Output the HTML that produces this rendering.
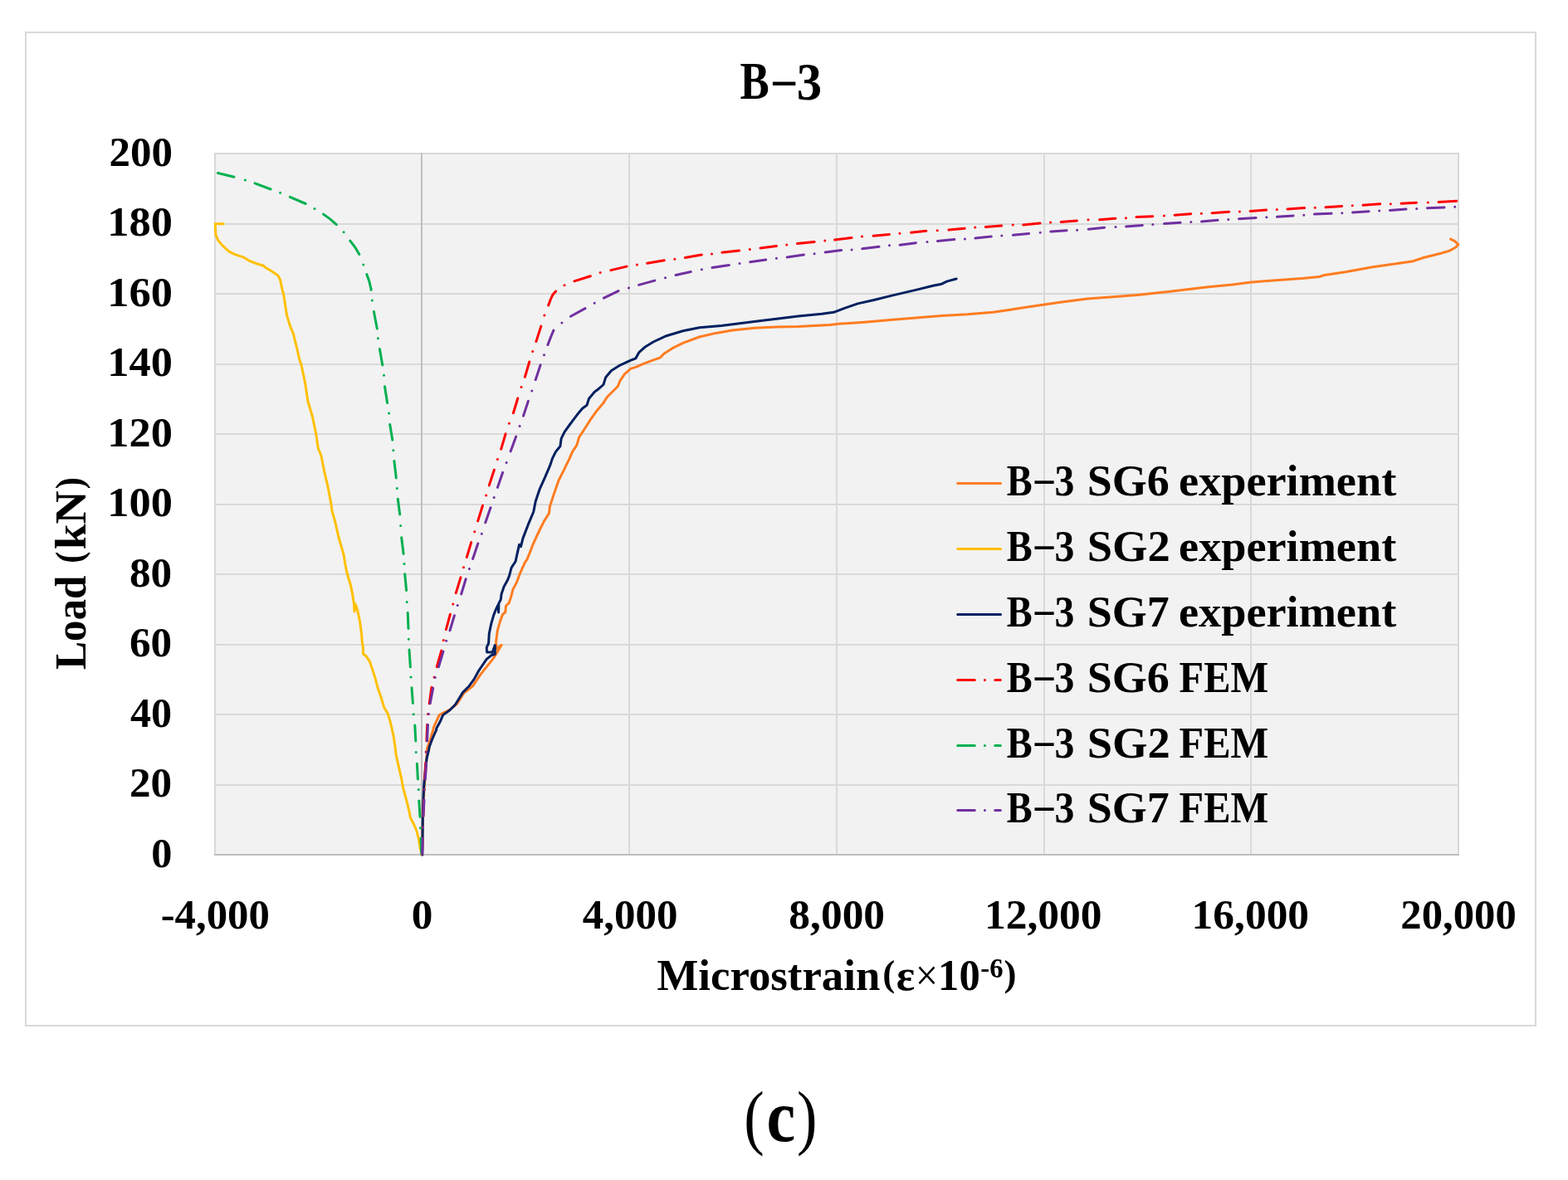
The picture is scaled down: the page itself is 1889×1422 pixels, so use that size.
<!DOCTYPE html>
<html><head><meta charset="utf-8"><title>B-3</title>
<style>
html,body{margin:0;padding:0;background:#fff;overflow:hidden;}
svg{display:block;}
.t{font-family:'Liberation Serif', 'DejaVu Serif', serif;font-weight:bold;fill:#000;}
.n{font-weight:normal;}
</style></head>
<body>
<svg width="1889" height="1422" viewBox="0 0 1889 1422">
<rect x="0" y="0" width="1889" height="1422" fill="#fff"/>
<rect x="31" y="39" width="1819" height="1197" fill="#fff" stroke="#d9d9d9" stroke-width="2"/>
<rect x="259.0" y="185.0" width="1498.0" height="845.0" fill="#f2f2f2"/>
<path d="M258.0 185H1758.0 M258.0 270H1758.0 M258.0 354H1758.0 M258.0 439H1758.0 M258.0 523H1758.0 M258.0 608H1758.0 M258.0 692H1758.0 M258.0 777H1758.0 M258.0 861H1758.0 M258.0 946H1758.0 M259 184.0V1030.0 M758 184.0V1030.0 M1008 184.0V1030.0 M1258 184.0V1030.0 M1507 184.0V1030.0 M1757 184.0V1030.0" stroke="#d9d9d9" stroke-width="2" fill="none"/>
<path d="M508 184.0V1031.0 M258.0 1030.0H1758.0" stroke="#bfbfbf" stroke-width="2" fill="none"/>
<text transform="translate(891.56 119.30) scale(0.8385 1)" font-size="63" class="t">B</text>
<text transform="translate(931.30 116.20) scale(0.8500 1)" font-size="63" class="t">–</text>
<text transform="translate(959.77 119.80) scale(0.9630 1)" font-size="63" class="t">3</text>
<text transform="translate(182.25 1044.60) scale(0.9773 1)" font-size="51.5" class="t">0</text>
<text transform="translate(156.01 960.10) scale(0.9937 1)" font-size="51.5" class="t">20</text>
<text transform="translate(157.03 875.60) scale(0.9735 1)" font-size="51.5" class="t">40</text>
<text transform="translate(156.01 791.10) scale(0.9937 1)" font-size="51.5" class="t">60</text>
<text transform="translate(156.01 706.60) scale(0.9937 1)" font-size="51.5" class="t">80</text>
<text transform="translate(129.33 622.10) scale(1.0183 1)" font-size="51.5" class="t">100</text>
<text transform="translate(129.33 537.60) scale(1.0183 1)" font-size="51.5" class="t">120</text>
<text transform="translate(129.33 453.10) scale(1.0183 1)" font-size="51.5" class="t">140</text>
<text transform="translate(129.33 368.60) scale(1.0183 1)" font-size="51.5" class="t">160</text>
<text transform="translate(129.33 284.10) scale(1.0183 1)" font-size="51.5" class="t">180</text>
<text transform="translate(131.42 199.60) scale(0.9904 1)" font-size="51.5" class="t">200</text>
<text transform="translate(193.67 1118.90) scale(0.9898 1)" font-size="51.3" class="t">-4,000</text>
<text transform="translate(495.67 1118.90) scale(1.0000 1)" font-size="51.3" class="t">0</text>
<text transform="translate(701.69 1118.90) scale(0.9937 1)" font-size="51.3" class="t">4,000</text>
<text transform="translate(950.34 1118.90) scale(1.0027 1)" font-size="51.3" class="t">8,000</text>
<text transform="translate(1185.95 1118.90) scale(1.0030 1)" font-size="51.3" class="t">12,000</text>
<text transform="translate(1435.62 1118.90) scale(1.0030 1)" font-size="51.3" class="t">16,000</text>
<text transform="translate(1687.32 1118.90) scale(0.9883 1)" font-size="51.3" class="t">20,000</text>
<text transform="translate(791.48 1193.00) scale(1.0156 1)" font-size="52" class="t">Microstrain</text>
<text transform="translate(1063.15 1188.20) scale(1.0000 1)" font-size="45" class="t">(</text>
<text transform="translate(1079.68 1193.00) scale(1.0105 1)" font-size="52" class="t">ε</text>
<text transform="translate(1102.67 1193.00) scale(0.9333 1)" font-size="52" class="t" style="font-weight:normal">×</text>
<text transform="translate(1130.10 1193.00) scale(0.9739 1)" font-size="52" class="t">10</text>
<text transform="translate(1181.31 1178.00) scale(0.9880 1)" font-size="33" class="t">-6</text>
<text transform="translate(1209.55 1188.20) scale(1.0000 1)" font-size="45" class="t">)</text>
<text transform="translate(1212.71 596.70) scale(0.8906 1)" font-size="52" class="t">B</text>
<text transform="translate(1246.70 593.90) scale(0.8692 1)" font-size="52" class="t">–</text>
<text transform="translate(1270.56 597.10) scale(0.9182 1)" font-size="52" class="t">3</text>
<text transform="translate(1309.69 596.70) scale(1.0374 1)" font-size="52" class="t">SG6</text>
<text transform="translate(1420.01 596.70) scale(1.0438 1)" font-size="52" class="t">experiment</text>
<text transform="translate(1212.71 675.70) scale(0.8906 1)" font-size="52" class="t">B</text>
<text transform="translate(1246.70 672.90) scale(0.8692 1)" font-size="52" class="t">–</text>
<text transform="translate(1270.56 676.10) scale(0.9182 1)" font-size="52" class="t">3</text>
<text transform="translate(1309.65 675.70) scale(1.0489 1)" font-size="52" class="t">SG2</text>
<text transform="translate(1420.01 675.70) scale(1.0438 1)" font-size="52" class="t">experiment</text>
<text transform="translate(1212.71 754.60) scale(0.8906 1)" font-size="52" class="t">B</text>
<text transform="translate(1246.70 751.80) scale(0.8692 1)" font-size="52" class="t">–</text>
<text transform="translate(1270.56 755.00) scale(0.9182 1)" font-size="52" class="t">3</text>
<text transform="translate(1309.69 754.60) scale(1.0374 1)" font-size="52" class="t">SG7</text>
<text transform="translate(1420.01 754.60) scale(1.0438 1)" font-size="52" class="t">experiment</text>
<text transform="translate(1212.71 833.70) scale(0.8906 1)" font-size="52" class="t">B</text>
<text transform="translate(1246.70 830.90) scale(0.8692 1)" font-size="52" class="t">–</text>
<text transform="translate(1270.56 834.10) scale(0.9182 1)" font-size="52" class="t">3</text>
<text transform="translate(1309.69 833.70) scale(1.0374 1)" font-size="52" class="t">SG6</text>
<text transform="translate(1420.57 833.70) scale(0.9310 1)" font-size="52" class="t">FEM</text>
<text transform="translate(1212.71 912.60) scale(0.8906 1)" font-size="52" class="t">B</text>
<text transform="translate(1246.70 909.80) scale(0.8692 1)" font-size="52" class="t">–</text>
<text transform="translate(1270.56 913.00) scale(0.9182 1)" font-size="52" class="t">3</text>
<text transform="translate(1309.65 912.60) scale(1.0489 1)" font-size="52" class="t">SG2</text>
<text transform="translate(1420.57 912.60) scale(0.9310 1)" font-size="52" class="t">FEM</text>
<text transform="translate(1212.71 990.70) scale(0.8906 1)" font-size="52" class="t">B</text>
<text transform="translate(1246.70 987.90) scale(0.8692 1)" font-size="52" class="t">–</text>
<text transform="translate(1270.56 991.10) scale(0.9182 1)" font-size="52" class="t">3</text>
<text transform="translate(1309.69 990.70) scale(1.0374 1)" font-size="52" class="t">SG7</text>
<text transform="translate(1420.57 990.70) scale(0.9310 1)" font-size="52" class="t">FEM</text>
<text transform="translate(896.18 1374.70) scale(0.8545 1)" font-size="86" class="t" style="font-weight:normal">(</text>
<text transform="translate(923.54 1375.30) scale(0.8882 1)" font-size="88" class="t">c</text>
<text transform="translate(959.94 1374.70) scale(0.8545 1)" font-size="86" class="t" style="font-weight:normal">)</text>
<text transform="translate(103.00 807.05) rotate(-90) scale(0.9538 1)" font-size="53.5" class="t">Load</text>
<text transform="translate(98.70 678.70) rotate(-90) scale(0.9000 1)" font-size="47" class="t">(</text>
<text transform="translate(103.00 662.24) rotate(-90) scale(1.0358 1)" font-size="53.5" class="t">kN</text>
<text transform="translate(98.70 589.20) rotate(-90) scale(0.9000 1)" font-size="47" class="t">)</text>
<g fill="none" stroke-linejoin="round" stroke-linecap="round">
<path d="M508.5 1030.0 L509.0 1000.0 L510.0 972.0 L511.0 950.0 L512.5 934.0 L513.5 921.0 L514.6 901.8 L518.4 890.9 L521.7 880.0 L522.5 876.2 L529.2 861.6 L542.7 854.9 L550.6 848.1 L558.5 835.7 L569.7 826.7 L578.7 813.2 L586.6 803.1 L594.8 792.9 L599.4 785.2 L604.2 777.2 L598.3 782.0 L597.5 774.0 L599.4 759.6 L602.5 748.8 L605.6 740.3 L608.7 738.0 L609.5 730.2 L613.3 726.4 L615.6 719.4 L618.0 710.1 L622.6 701.6 L626.2 691.6 L632.5 677.7 L635.1 673.9 L640.1 661.3 L642.0 656.2 L649.0 641.0 L655.3 628.4 L661.6 618.2 L662.3 610.6 L667.3 595.4 L673.0 579.0 L680.0 565.1 L681.6 561.7 L685.6 553.7 L689.6 544.4 L694.9 536.4 L697.6 527.0 L702.9 519.0 L712.3 504.3 L719.0 494.9 L727.0 485.6 L731.0 478.9 L736.4 473.5 L744.4 465.5 L747.0 458.8 L752.4 450.8 L760.0 444.1 L765.9 442.4 L776.5 437.8 L787.1 433.8 L795.0 431.2 L800.3 425.9 L809.6 419.9 L822.8 413.3 L842.6 406.0 L862.5 401.4 L882.3 398.1 L908.8 395.2 L935.3 394.1 L961.8 393.5 L1000.0 391.5 L1010.6 390.3 L1041.6 388.2 L1072.6 385.5 L1103.5 382.9 L1134.5 380.4 L1165.5 378.7 L1196.4 376.3 L1217.1 373.2 L1237.7 370.1 L1258.4 367.0 L1279.0 363.9 L1310.0 360.1 L1340.9 357.7 L1370.0 355.6 L1411.8 350.9 L1453.6 346.1 L1485.0 342.9 L1505.9 340.2 L1537.3 337.7 L1568.7 335.6 L1589.6 333.5 L1595.8 331.4 L1620.9 327.7 L1652.3 322.0 L1683.7 317.4 L1702.5 314.7 L1715.0 310.5 L1736.0 305.3 L1746.4 302.1 L1753.7 298.0 L1756.9 294.8 L1752.7 290.6 L1747.5 288.1" stroke="#ff7c20" stroke-width="3"/>
<path d="M508.2 1030.0 L507.6 1028.7 L505.8 1019.6 L504.3 1010.5 L502.0 1001.5 L498.2 992.4 L494.4 985.6 L492.9 977.3 L489.1 962.2 L485.4 948.5 L483.9 939.5 L480.1 922.8 L477.0 909.2 L476.3 901.7 L474.0 886.5 L470.2 869.9 L467.2 860.1 L462.7 852.5 L458.9 839.7 L455.4 829.8 L451.7 816.1 L448.6 806.6 L445.4 797.1 L441.2 790.8 L437.5 788.0 L437.6 781.0 L436.4 774.9 L435.4 762.3 L433.3 747.5 L430.6 734.9 L428.2 728.0 L427.0 737.0 L426.4 727.5 L424.8 716.9 L422.2 704.3 L418.0 690.5 L415.9 680.0 L414.1 668.6 L411.5 659.8 L408.0 647.5 L403.6 628.1 L400.0 615.8 L399.2 608.8 L395.6 589.4 L390.4 566.6 L386.9 549.0 L383.3 540.2 L380.7 522.6 L376.3 501.5 L371.0 484.0 L367.5 461.1 L363.1 440.0 L360.5 432.3 L357.8 420.0 L355.2 409.5 L353.5 402.5 L349.1 391.9 L345.5 379.6 L343.8 369.1 L342.0 356.7 L339.4 346.2 L337.6 337.4 L335.0 332.1 L328.8 327.7 L320.0 322.5 L317.4 320.2 L307.7 317.2 L300.7 314.5 L293.7 310.2 L283.1 306.6 L276.1 303.1 L268.2 296.1 L262.9 289.9 L259.9 282.9 L259.4 272.4 L259.2 269.7 L269.1 269.7" stroke="#ffc000" stroke-width="3"/>
<path d="M508.8 1030.2 L509.3 986.4 L509.9 965.2 L510.8 945.5 L512.3 928.9 L514.1 913.8 L516.4 904.7 L517.4 899.6 L520.6 890.9 L525.5 880.0 L525.9 877.4 L529.8 870.6 L533.7 861.6 L541.6 856.0 L548.4 849.2 L554.0 840.2 L557.4 834.6 L565.2 826.7 L570.9 818.9 L576.5 808.7 L581.0 802.0 L586.2 794.4 L591.7 789.8 L596.3 788.3 L596.3 777.4 L593.2 786.0 L586.6 786.0 L586.2 780.5 L588.6 775.1 L589.3 763.5 L591.7 751.9 L594.8 741.1 L597.9 733.3 L600.2 728.7 L600.6 738.0 L600.9 727.1 L603.3 722.5 L604.0 716.3 L607.1 707.0 L611.0 700.1 L613.5 694.2 L616.1 684.1 L621.1 676.5 L623.0 667.6 L625.6 656.2 L627.5 658.7 L630.0 648.6 L636.3 632.2 L642.7 617.0 L645.2 604.3 L650.3 589.1 L656.6 575.2 L662.9 560.4 L665.5 552.4 L669.5 544.4 L674.9 537.7 L676.2 528.3 L680.2 520.3 L686.9 511.0 L694.9 500.3 L701.6 492.3 L707.0 488.2 L709.6 480.2 L716.3 472.2 L721.7 468.2 L727.0 463.5 L729.7 454.8 L736.4 446.8 L747.0 440.1 L760.0 434.1 L765.9 431.8 L769.9 424.6 L776.5 418.6 L787.1 412.0 L802.9 404.7 L822.8 398.7 L842.6 394.8 L869.1 392.5 L889.0 390.1 L908.8 387.5 L935.3 384.2 L961.8 380.9 L990.0 378.3 L1004.5 376.3 L1016.8 371.7 L1033.4 365.9 L1051.9 361.8 L1076.7 355.6 L1103.5 349.4 L1124.2 344.3 L1134.5 342.2 L1140.7 339.1 L1152.1 336.0" stroke="#002060" stroke-width="3"/>
<path d="M508.5 1029.3 L509.0 1010.2 M509.35 997.0h0.1 M509.8 983.8 L510.6 964.2 M510.95 951.6h0.1 M511.8 938.8 L512.7 919.2 M513.15 906.0h0.1 M513.9 892.8 L514.7 873.2 M515.55 860.5h0.1 M517.2 847.8 L520.0 828.2 M523.05 816.1h0.1 M526.2 803.6 L531.8 784.1 M534.25 771.4h0.1 M537.4 758.6 L542.4 740.2 M545.75 728.1h0.1 M549.3 714.6 L555.0 695.9 M558.45 683.8h0.1 M562.3 671.5 L567.7 653.6 M571.75 640.8h0.1 M575.7 627.9 L581.5 609.2 M585.65 597.0h0.1 M589.3 584.9 L595.4 566.2 M599.35 553.5h0.1 M603.7 541.2 L609.1 522.9 M613.35 510.3h0.1 M618.4 497.8 L623.8 480.0 M628.05 466.6h0.1 M632.4 454.3 L637.8 436.0 M641.65 423.4h0.1 M645.9 411.6 L651.8 393.1 M655.85 380.0h0.1 M660.7 368.0 L663.0 361.5 L665.8 355.3 L669.7 351.0 M679.95 343.7h0.1 M691.9 338.9 L711.3 332.7 M723.15 328.5h0.1 M735.9 325.6 L755.0 321.1 M767.35 318.9h0.1 M779.7 317.2 L800.2 313.8 M812.75 312.3h0.1 M825.4 310.5 L845.3 307.1 M857.45 306.0h0.1 M869.9 304.2 L890.6 301.9 M903.25 300.4h0.1 M916.0 298.9 L935.4 296.5 M947.65 295.0h0.1 M960.5 293.6 L981.1 291.4 M993.75 290.0h0.1 M1005.7 289.0 L1026.0 286.5 M1038.45 285.0h0.1 M1052.1 284.3 L1071.4 282.4 M1083.85 281.3h0.1 M1097.5 280.2 L1115.8 278.3 M1129.25 277.8h0.1 M1142.9 277.1 L1162.2 275.2 M1174.75 274.1h0.1 M1187.3 273.5 L1206.6 272.1 M1220.15 271.0h0.1 M1232.7 270.9 L1253.0 269.0 M1265.55 267.9h0.1 M1278.2 267.4 L1297.4 265.9 M1310.95 264.8h0.1 M1324.6 264.7 L1343.9 263.2 M1356.35 262.7h0.1 M1369.0 261.6 L1388.7 260.8 M1402.35 259.9h0.1 M1415.1 259.2 L1434.7 257.7 M1447.35 257.2h0.1 M1460.1 256.7 L1480.7 255.2 M1493.35 255.1h0.1 M1506.1 254.4 L1525.6 253.1 M1538.25 252.4h0.1 M1551.0 251.9 L1571.6 250.6 M1584.25 250.3h0.1 M1597.0 249.8 L1616.6 248.5 M1629.25 247.8h0.1 M1642.0 247.3 L1662.6 245.8 M1675.25 245.7h0.1 M1688.0 245.2 L1706.5 244.3 M1720.25 244.0h0.1 M1733.0 243.5 L1754.8 242.2" stroke="#ff0000" stroke-width="3"/>
<path d="M507.8 1029.0 L507.0 1010.2 M506.45 997.7h0.1 M506.0 984.4 L504.8 964.9 M504.25 951.6h0.1 M503.4 939.0 L502.4 920.3 M501.15 906.5h0.1 M500.8 892.9 L499.8 874.1 M498.15 860.8h0.1 M497.4 847.5 L496.0 828.8 M494.95 816.1h0.1 M494.4 803.8 L493.0 783.0 M492.25 770.2h0.1 M492.0 757.4 L491.2 738.2 M490.15 725.4h0.1 M489.6 711.5 L487.7 691.7 M486.95 679.5h0.1 M486.1 667.4 L483.7 647.8 M482.65 633.4h0.1 M481.7 619.9 L479.3 601.2 M478.25 588.6h0.1 M477.3 575.9 L474.9 555.5 M473.85 542.8h0.1 M472.8 530.2 L469.7 511.5 M468.55 498.0h0.1 M466.6 485.4 L463.5 465.8 M462.45 452.3h0.1 M460.8 439.9 L457.4 420.4 M455.35 407.7h0.1 M454.3 396.0 L450.4 375.5 M448.35 362.0h0.1 M447.2 349.4 L445.0 339.5 L441.8 330.6 M437.75 318.9h0.1 M432.8 306.5 L427.5 297.6 L421.8 290.1 M414.05 279.7h0.1 M405.3 270.7 L397.6 263.9 L389.6 258.1 M378.95 251.6h0.1 M368.2 245.5 L349.3 237.3 M337.55 232.3h0.1 M326.0 228.0 L307.1 220.9 M295.35 217.0h0.1 M281.9 213.2 L262.4 208.5" stroke="#00b050" stroke-width="3"/>
<path d="M508.6 1029.3 L509.2 1010.4 M509.55 997.2h0.1 M510.0 983.6 L511.0 964.1 M511.35 951.6h0.1 M512.4 939.0 L513.5 919.5 M513.75 906.5h0.1 M514.5 892.9 L515.5 873.4 M516.35 860.5h0.1 M518.2 847.8 L521.7 829.1 M524.15 816.6h0.1 M528.4 803.7 L534.0 785.1 M537.65 772.2h0.1 M542.0 759.8 L547.4 741.8 M551.15 729.5h0.1 M555.7 715.9 L561.2 697.8 M565.35 685.6h0.1 M569.6 673.5 L575.8 655.0 M580.25 643.2h0.1 M584.8 629.8 L591.0 611.7 M595.15 599.5h0.1 M599.4 587.4 L605.6 569.4 M610.05 557.5h0.1 M615.1 543.9 L621.7 526.1 M626.05 513.6h0.1 M630.5 501.2 L636.4 483.3 M640.75 470.9h0.1 M645.2 457.7 L651.1 439.9 M655.45 427.7h0.1 M659.9 415.6 L663.5 406.3 L666.9 398.1 M676.85 389.0h0.1 M687.5 381.2 L705.0 371.6 M716.15 365.3h0.1 M727.5 359.1 L745.0 350.6 M757.45 346.9h0.1 M769.6 343.4 L788.8 338.1 M801.45 334.8h0.1 M814.1 331.5 L832.3 327.5 M845.35 324.8h0.1 M858.0 322.6 L878.3 319.6 M890.95 317.5h0.1 M903.7 315.7 L922.7 313.1 M935.35 311.3h0.1 M948.2 309.9 L968.4 307.1 M981.05 305.7h0.1 M994.2 304.1 L1013.6 301.6 M1026.05 300.9h0.1 M1038.7 299.8 L1059.0 297.3 M1071.45 295.7h0.1 M1084.1 295.2 L1103.4 292.7 M1116.95 291.6h0.1 M1129.5 290.5 L1149.8 288.6 M1162.35 287.9h0.1 M1174.9 287.0 L1194.2 285.1 M1206.75 284.0h0.1 M1220.4 283.3 L1239.6 281.4 M1253.15 280.3h0.1 M1265.8 279.1 L1285.0 277.7 M1297.55 277.2h0.1 M1311.2 276.2 L1330.5 274.2 M1343.95 273.4h0.1 M1356.6 272.9 L1376.3 271.4 M1388.75 270.4h0.1 M1402.6 269.6 L1422.1 268.2 M1434.75 267.6h0.1 M1447.5 266.9 L1467.1 265.2 M1479.75 264.5h0.1 M1492.5 263.8 L1513.1 262.5 M1525.75 261.8h0.1 M1538.5 261.3 L1558.1 260.0 M1570.75 259.3h0.1 M1583.5 258.1 L1604.1 257.3 M1616.75 256.8h0.1 M1629.5 256.0 L1649.0 254.8 M1661.65 254.0h0.1 M1674.4 253.5 L1694.0 252.1 M1706.65 251.5h0.1 M1719.4 250.8 L1740.0 250.0 M1752.65 249.2h0.1" stroke="#7030a0" stroke-width="3"/>
</g>
<path d="M1153.7 582.50H1205.5" stroke="#ff7c20" stroke-width="3" stroke-linecap="round" fill="none"/>
<path d="M1153.7 661.50H1205.5" stroke="#ffc000" stroke-width="3" stroke-linecap="round" fill="none"/>
<path d="M1153.7 740.40H1205.5" stroke="#002060" stroke-width="3" stroke-linecap="round" fill="none"/>
<path d="M1153.7 819.50H1174.3 M1186.35 819.50h0.1 M1198.8 819.50H1205.3" stroke="#ff0000" stroke-width="3" stroke-linecap="round" fill="none"/>
<path d="M1153.7 898.40H1174.3 M1186.35 898.40h0.1 M1198.8 898.40H1205.3" stroke="#00b050" stroke-width="3" stroke-linecap="round" fill="none"/>
<path d="M1153.7 976.50H1174.3 M1186.35 976.50h0.1 M1198.8 976.50H1205.3" stroke="#7030a0" stroke-width="3" stroke-linecap="round" fill="none"/>
</svg>
</body></html>
